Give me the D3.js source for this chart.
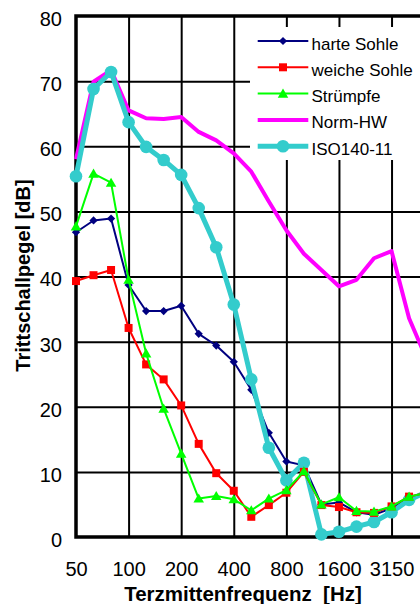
<!DOCTYPE html>
<html>
<head>
<meta charset="utf-8">
<script src="https://cdn.jsdelivr.net/npm/d3@7"></script>
<style>
  html, body { margin: 0; padding: 0; background: #fff; overflow: hidden; }
  svg { display: block; overflow: hidden; font-family: "Liberation Sans", Arial, sans-serif; }
</style>
</head>
<body>
<svg id="chart" width="420" height="604"></svg>
<script>
// ---- data ----
const bands = ["50","63","80","100","125","160","200","250","315","400","500","630","800","1000","1250","1600","2000","2500","3150","4000","5000"];
const xTickLabels = ["50","100","200","400","800","1600","3150"];
const yTicks = [0,10,20,30,40,50,60,70,80];

const harteSohle  = [46.8,48.6,48.9,38.7,34.7,34.7,35.5,31.2,29.4,26.9,22.6,16.0,11.6,11.0,5.0,5.3,3.8,3.4,4.4,6.0,6.6];
const weicheSohle = [39.3,40.2,41.0,32.1,26.5,24.2,20.2,14.3,9.8,7.1,3.1,4.9,6.8,10.0,4.9,4.6,3.8,3.7,4.7,6.2,6.8];
const struempfe   = [47.7,55.8,54.4,39.5,28.2,19.7,12.8,5.9,6.3,5.8,4.1,5.9,7.2,10.1,5.0,6.1,4.0,3.9,4.7,6.2,6.8];
const normHW      = [58.0,69.9,71.7,65.5,64.3,64.2,64.5,62.2,60.9,58.9,56.1,51.5,47.1,43.5,41.0,38.5,39.5,42.8,43.9,33.6,27.3];
const iso14011    = [55.4,68.8,71.4,63.7,59.9,57.9,55.6,50.5,44.5,35.7,24.2,13.7,8.7,11.4,0.4,0.8,1.6,2.3,3.8,5.7,6.9];

const seriesNames = ["harte Sohle","weiche Sohle","Strümpfe","Norm-HW","ISO140-11"];
const seriesValues = [harteSohle, weicheSohle, struempfe, normHW, iso14011];
const seriesColors = ["#000080","#FF0000","#00FF00","#FF00FF","#33CCCC"];
const seriesMarkers = ["diamond","square","triangle","none","circle"];
const seriesWidths = [2, 2, 2, 4, 5];
const drawOrder = [0, 3, 4, 1, 2];

// ---- layout ----
const pLeft = 76, pTop = 16, pBottom = 537;
const bandStep = 17.53;
const nIdx = 21;
const pRight = pLeft + nIdx * bandStep;

const svg = d3.select("#chart");
const x = d3.scaleLinear().domain([0, nIdx]).range([pLeft, pRight]);
const y = d3.scaleLinear().domain([0, 80]).range([pBottom, pTop]);

const xTickIdx = xTickLabels.map(l => bands.indexOf(l));

// grid
const gx = svg.append("g").attr("transform", `translate(0,${pBottom})`)
  .call(d3.axisBottom(x).tickValues(xTickIdx.slice(1)).tickSize(-(pBottom - pTop)).tickFormat(""));
gx.select(".domain").remove();
gx.selectAll("line").attr("stroke", "#000").attr("stroke-width", 2);

const gy = svg.append("g").attr("transform", `translate(${pLeft},0)`)
  .call(d3.axisLeft(y).tickValues(yTicks.slice(1, -1)).tickSize(-(pRight - pLeft)).tickFormat(""));
gy.select(".domain").remove();
gy.selectAll("line").attr("stroke", "#000").attr("stroke-width", 2);

// legend background (covers grid)
const legX = 250, legY = 27;
svg.append("rect").attr("x", legX).attr("y", legY).attr("width", 200).attr("height", 133).attr("fill", "#fff");

// border
svg.append("path")
  .attr("d", `M${pRight},${pTop}H${pLeft}V${pBottom}H${pRight}`)
  .attr("fill", "none").attr("stroke", "#000").attr("stroke-width", 3.5).attr("stroke-linecap", "square");

// tick labels
const ax = svg.append("g").attr("transform", `translate(0,${pBottom})`)
  .call(d3.axisBottom(x).tickValues(xTickIdx).tickSize(0).tickPadding(0)
    .tickFormat((d, i) => xTickLabels[i]));
ax.select(".domain").remove();
ax.selectAll("text").attr("y", 39).attr("dy", null)
  .attr("font-size", 20).attr("font-family", "Liberation Sans, Arial, sans-serif").attr("fill", "#000");

const ay = svg.append("g").attr("transform", `translate(${pLeft},0)`)
  .call(d3.axisLeft(y).tickValues(yTicks).tickSize(0).tickPadding(14));
ay.select(".domain").remove();
ay.selectAll("text").attr("dy", "0.47em")
  .attr("font-size", 20).attr("font-family", "Liberation Sans, Arial, sans-serif").attr("fill", "#000");

// axis titles
svg.append("text").attr("x", 243).attr("y", 601)
  .attr("text-anchor", "middle").attr("font-weight", "bold").attr("font-size", 20.5)
  .style("white-space", "pre")
  .text("Terzmittenfrequenz  [Hz]");

svg.append("text").attr("transform", `translate(30,275.5) rotate(-90)`)
  .attr("text-anchor", "middle").attr("font-weight", "bold").attr("font-size", 20)
  .text("Trittschallpegel [dB]");

// markers
function markerPath(type) {
  if (type === "diamond") return d3.symbol().type(d3.symbolSquare).size(34)();
  if (type === "square") return d3.symbol().type(d3.symbolSquare).size(64)();
  if (type === "triangle") return d3.symbol().type(d3.symbolTriangle).size(48)();
  if (type === "circle") return d3.symbol().type(d3.symbolCircle).size(Math.PI * 6.3 * 6.3)();
  return null;
}
function markerTransform(type, px, py) {
  if (type === "diamond") return `translate(${px},${py}) rotate(45)`;
  if (type === "triangle") return `translate(${px},${py + 1})`;
  return `translate(${px},${py})`;
}

const line = d3.line().x((d, i) => x(i)).y(d => y(d));
const plot = svg.append("g");
drawOrder.forEach(s => {
  const g = plot.append("g");
  g.append("path").datum(seriesValues[s])
    .attr("d", line).attr("fill", "none")
    .attr("stroke", seriesColors[s]).attr("stroke-width", seriesWidths[s])
    .attr("stroke-linejoin", "round");
  const mp = markerPath(seriesMarkers[s]);
  if (mp) {
    g.selectAll("path.m").data(seriesValues[s]).join("path").attr("class", "m")
      .attr("d", mp).attr("fill", seriesColors[s])
      .attr("transform", (d, i) => markerTransform(seriesMarkers[s], x(i), y(d)));
  }
});

// legend
const leg = svg.append("g");
seriesNames.forEach((name, s) => {
  const cy = 43.5 + s * 26.3;
  const ly = cy - 2.5;
  leg.append("line").attr("x1", 257.7).attr("x2", 308.3).attr("y1", ly).attr("y2", ly)
    .attr("stroke", seriesColors[s]).attr("stroke-width", seriesWidths[s]);
  const mp = markerPath(seriesMarkers[s]);
  if (mp) {
    leg.append("path").attr("d", mp).attr("fill", seriesColors[s])
      .attr("transform", markerTransform(seriesMarkers[s], 283, ly));
  }
  leg.append("text").attr("x", 311.5).attr("y", cy + 6)
    .attr("font-size", 17).attr("fill", "#000").text(name);
});
</script>
</body>
</html>
